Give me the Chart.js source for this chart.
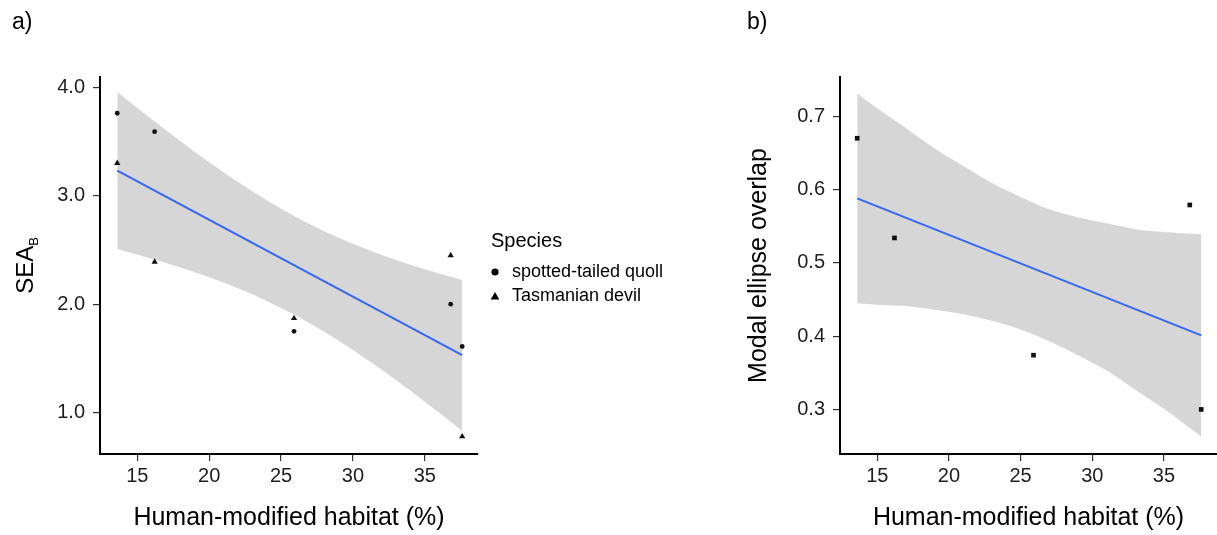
<!DOCTYPE html>
<html>
<head>
<meta charset="utf-8">
<script src="https://cdn.jsdelivr.net/npm/chart.js@4.4.1/dist/chart.umd.min.js"></script>
<style>
  html, body { margin: 0; padding: 0; background: #ffffff; }
  #wrap { position: relative; width: 1217px; height: 535px; overflow: hidden; }
  #cA { position: absolute; left: 0; top: 0; }
  #cB { position: absolute; left: 740px; top: 0; }
</style>
</head>
<body>
<div id="wrap">
  <canvas id="cA" width="740" height="535"></canvas>
  <canvas id="cB" width="481" height="535"></canvas>
</div>
<script>
// Human-modified habitat (%) at each site
const habitat = [13.6, 16.2, 25.9, 36.8, 37.6];

// Panel a: standard ellipse area (SEA_B) per species
const quollSEA = [3.76, 3.59, 1.75, 2.00, 1.61];
const devilSEA = [3.30, 2.39, 1.87, 2.45, 0.78];

// Panel a: linear fit and its 95% confidence band
const fitX = [13.6, 37.6];
const fitSEA = [3.23, 1.53];
const bandX_a = [13.6, 16, 18, 20, 22, 24, 26, 28, 30, 32, 34, 36, 37.6];
const bandUpper_a = [3.956, 3.705, 3.502, 3.308, 3.126, 2.957, 2.805, 2.672, 2.556, 2.454, 2.364, 2.283, 2.222];
const bandLower_a = [2.508, 2.419, 2.338, 2.248, 2.146, 2.030, 1.897, 1.746, 1.578, 1.396, 1.202, 0.999, 0.832];

// Panel b: modal ellipse overlap between species
const overlap = [0.670, 0.534, 0.374, 0.579, 0.300];
const fitOverlap = [0.588, 0.401];
const bandX_b = [13.6, 15, 17, 19, 21, 23, 25, 27, 29, 31, 33, 35, 37.6];
const bandUpper_b = [0.731, 0.711, 0.684, 0.656, 0.632, 0.609, 0.590, 0.573, 0.562, 0.554, 0.546, 0.542, 0.539];
const bandLower_b = [0.445, 0.443, 0.441, 0.436, 0.430, 0.421, 0.409, 0.393, 0.374, 0.353, 0.327, 0.301, 0.263];

// Axis ticks and labels
const xTicks = [15, 20, 25, 30, 35];
const yTicks_a = [1, 2, 3, 4];
const yTicks_b = [0.3, 0.4, 0.5, 0.6, 0.7];
const speciesNames = ['spotted-tailed quoll', 'Tasmanian devil'];
const xTitle = 'Human-modified habitat (%)';
const yTitle_b = 'Modal ellipse overlap';

const FONT = "'Liberation Sans', Arial, Helvetica, sans-serif";
const INK = '#111111';
const FIT_COLOR = '#3366FF';
const BAND_COLOR = 'rgb(214,214,214)';

const pts = (xs, ys) => xs.map((x, i) => ({ x: x, y: ys[i] }));

function xScale() {
  return {
    type: 'linear', min: 12.4, max: 38.7,
    afterBuildTicks: s => { s.ticks = xTicks.map(v => ({ value: v })); },
    afterFit: s => { s.height = 81; },
    grid: { drawOnChartArea: false, drawTicks: true, tickLength: 7, color: '#333333', lineWidth: 1.2 },
    border: { display: true, color: '#000000', width: 2 },
    ticks: { font: { family: FONT, size: 20 }, color: '#1e1e1e', padding: 3, maxRotation: 0, autoSkip: false },
    title: { display: true, text: xTitle, font: { family: FONT, size: 25 }, color: '#000000', padding: { top: 0, bottom: 2 } }
  };
}

function yScale(min, max, ticks, title) {
  return {
    type: 'linear', min: min, max: max,
    afterBuildTicks: s => { s.ticks = ticks.map(v => ({ value: v })); },
    afterFit: s => { s.width = 100; },
    grid: { drawOnChartArea: false, drawTicks: true, tickLength: 7, color: '#333333', lineWidth: 1.2 },
    border: { display: true, color: '#000000', width: 2 },
    ticks: { font: { family: FONT, size: 20 }, color: '#1e1e1e', padding: 8, autoSkip: false,
             callback: v => Number(v).toFixed(1) },
    title: title ? { display: true, text: title, font: { family: FONT, size: 25 }, color: '#000000', padding: { top: 4, bottom: 0 } }
                 : { display: false }
  };
}

function bandSets(xs, upper, lower) {
  return [
    { label: 'upper', data: pts(xs, upper), showLine: true, fill: '+1', backgroundColor: BAND_COLOR,
      borderWidth: 0, borderColor: 'rgba(0,0,0,0)', pointRadius: 0, cubicInterpolationMode: 'monotone' },
    { label: 'lower', data: pts(xs, lower), showLine: true, fill: false,
      borderWidth: 0, borderColor: 'rgba(0,0,0,0)', pointRadius: 0, cubicInterpolationMode: 'monotone' }
  ];
}

function fitSet(ys) {
  return { label: 'fit', data: pts(fitX, ys), showLine: true, borderColor: FIT_COLOR, borderWidth: 2,
           pointRadius: 0, fill: false };
}

// Panel tag ("a)" / "b)") in the top-left corner
const panelTag = {
  id: 'panelTag',
  afterDraw(chart, args, opts) {
    const ctx = chart.ctx;
    ctx.save();
    ctx.fillStyle = '#000000';
    ctx.font = `23px ${FONT}`;
    ctx.textAlign = 'left';
    ctx.textBaseline = 'alphabetic';
    ctx.fillText(opts.text, opts.x, 29);
    ctx.restore();
  }
};

// Y title with subscript: SEA_B
const seaTitle = {
  id: 'seaTitle',
  afterDraw(chart) {
    const ctx = chart.ctx;
    const ca = chart.chartArea;
    ctx.save();
    ctx.fillStyle = '#000000';
    ctx.font = `24px ${FONT}`;
    const wMain = ctx.measureText('SEA').width;
    ctx.font = `13px ${FONT}`;
    const wSub = ctx.measureText('B').width;
    const total = wMain + wSub;
    const cy = (ca.top + ca.bottom) / 2;
    ctx.translate(32.5, cy + total / 2);
    ctx.rotate(-Math.PI / 2);
    ctx.textAlign = 'left';
    ctx.textBaseline = 'alphabetic';
    ctx.font = `24px ${FONT}`;
    ctx.fillText('SEA', 0, 0);
    ctx.font = `13px ${FONT}`;
    ctx.fillText('B', wMain, 5);
    ctx.restore();
  }
};

// Species key drawn to the right of panel a, using each dataset's marker
const speciesKey = {
  id: 'speciesKey',
  afterDraw(chart) {
    const ctx = chart.ctx;
    ctx.save();
    ctx.fillStyle = '#000000';
    ctx.textAlign = 'left';
    ctx.textBaseline = 'middle';
    ctx.font = `20px ${FONT}`;
    ctx.fillText('Species', 491, 241);
    ctx.font = `18px ${FONT}`;
    speciesNames.forEach((name, i) => {
      const ds = chart.data.datasets[i];
      const y = 272 + i * 24;
      const style = ds.pointStyle;
      const r = style === 'triangle' ? 5 : 3.6;
      ctx.fillStyle = '#000000';
      if (Chart.helpers && Chart.helpers.drawPoint) {
        Chart.helpers.drawPoint(ctx, { pointStyle: style, radius: r, borderWidth: 0, rotation: 0 }, 495, y + (style === 'triangle' ? 1 : 0));
      } else {
        ctx.beginPath();
        if (style === 'triangle') {
          ctx.moveTo(495, y - r); ctx.lineTo(495 + r * 0.866, y + r / 2); ctx.lineTo(495 - r * 0.866, y + r / 2);
        } else {
          ctx.arc(495, y, r, 0, Math.PI * 2);
        }
        ctx.fill();
      }
      ctx.fillStyle = '#000000';
      ctx.fillText(name, 512, y);
    });
    ctx.restore();
  }
};

const common = {
  responsive: false,
  animation: false,
  events: [],
  plugins: { legend: { display: false }, tooltip: { enabled: false } }
};

new Chart(document.getElementById('cA'), {
  type: 'scatter',
  data: {
    datasets: [
      { label: speciesNames[0], data: pts(habitat, quollSEA), pointStyle: 'circle', pointRadius: 2.4,
        backgroundColor: INK, borderWidth: 0 },
      { label: speciesNames[1], data: pts(habitat, devilSEA), pointStyle: 'triangle', pointRadius: 3.6,
        backgroundColor: INK, borderWidth: 0 },
      fitSet(fitSEA),
      ...bandSets(bandX_a, bandUpper_a, bandLower_a)
    ]
  },
  options: Object.assign({}, common, {
    layout: { padding: { top: 77, right: 262, bottom: 0, left: 0 } },
    scales: { x: xScale(), y: yScale(0.619, 4.094, yTicks_a, null) },
    plugins: Object.assign({}, common.plugins, { panelTag: { text: 'a)', x: 12 } })
  }),
  plugins: [panelTag, seaTitle, speciesKey]
});

new Chart(document.getElementById('cB'), {
  type: 'scatter',
  data: {
    datasets: [
      { label: 'overlap', data: pts(habitat, overlap), pointStyle: 'rect', pointRadius: 3.3,
        backgroundColor: INK, borderWidth: 0 },
      fitSet(fitOverlap),
      ...bandSets(bandX_b, bandUpper_b, bandLower_b)
    ]
  },
  options: Object.assign({}, common, {
    layout: { padding: { top: 77, right: 0, bottom: 0, left: 0 } },
    scales: { x: xScale(), y: yScale(0.2392, 0.7536, yTicks_b, yTitle_b) },
    plugins: Object.assign({}, common.plugins, { panelTag: { text: 'b)', x: 7 } })
  }),
  plugins: [panelTag]
});
</script>
</body>
</html>
